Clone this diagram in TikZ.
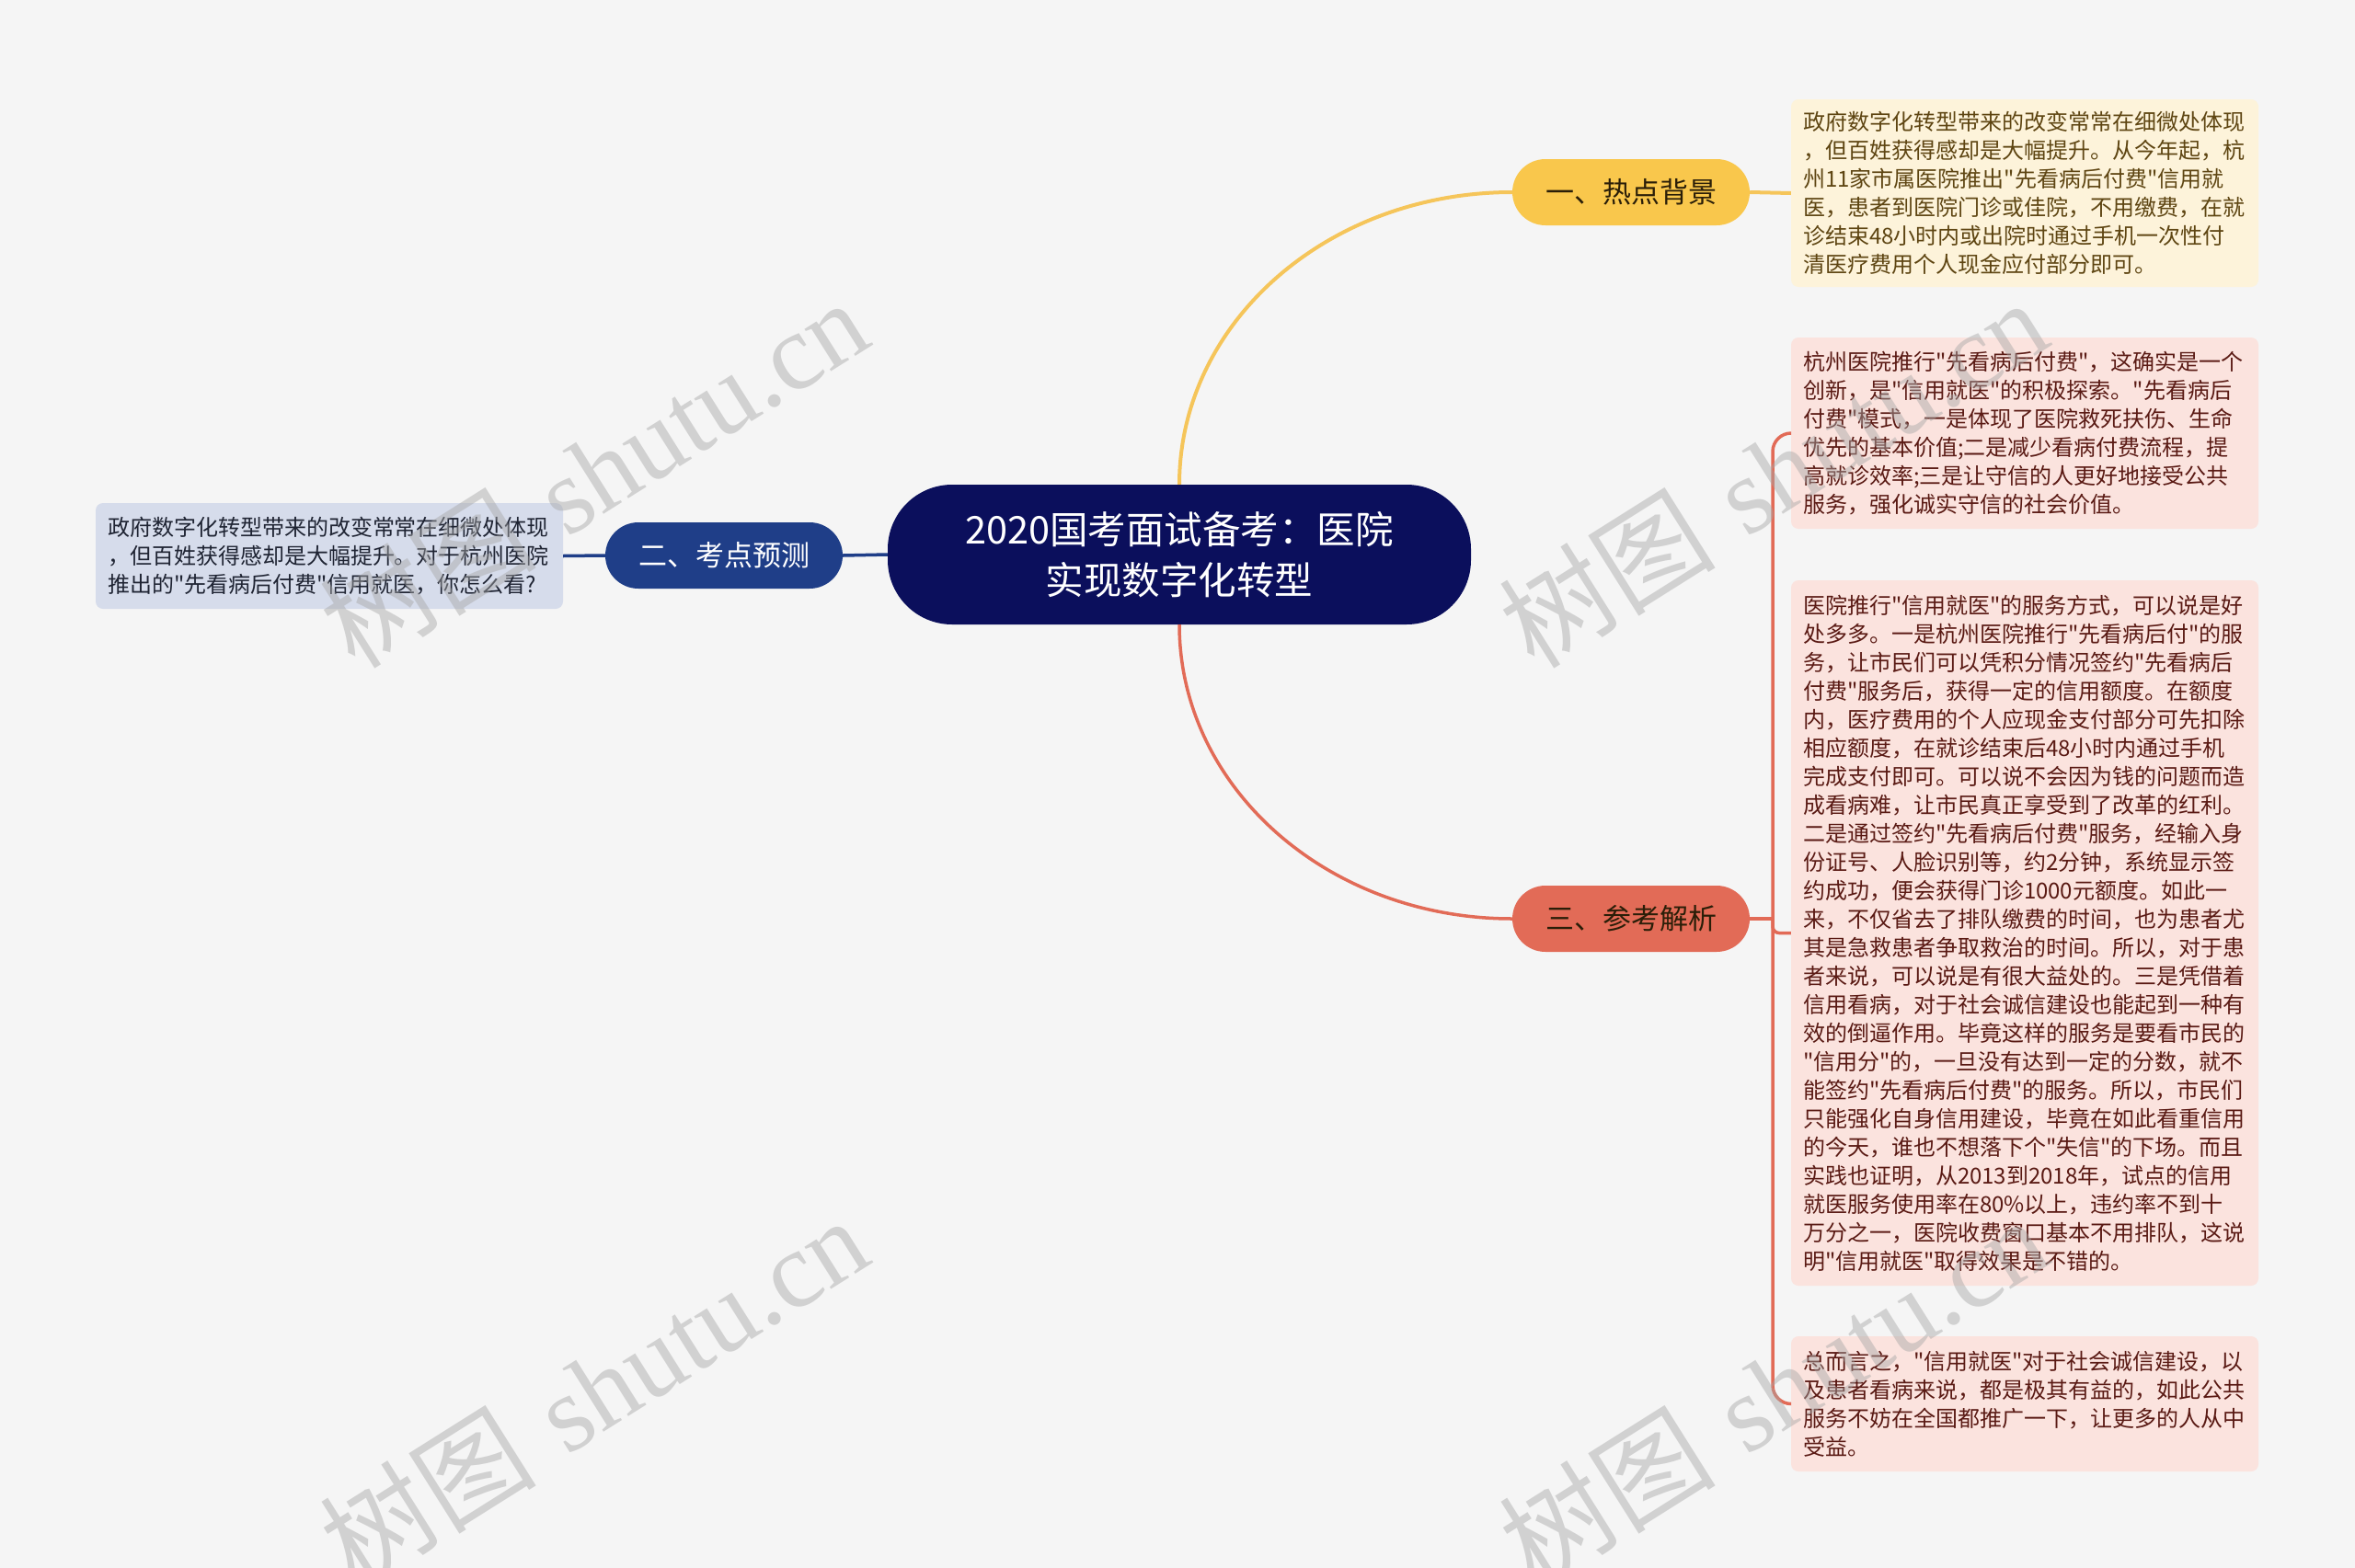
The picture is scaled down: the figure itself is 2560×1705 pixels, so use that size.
\documentclass[tikz,border=0pt]{standalone}
\usepackage{fontspec}
\newfontfamily\cjk{Noto Sans CJK SC}
\newfontfamily\wmlatin{Liberation Serif}
\definecolor{bgc}{HTML}{F5F5F5}
\definecolor{navy}{HTML}{0B0F5C}
\definecolor{yel}{HTML}{F9C74C}
\definecolor{yelline}{HTML}{F5C55A}
\definecolor{blu}{HTML}{1F3E88}
\definecolor{cor}{HTML}{E26B57}
\definecolor{boxA}{HTML}{FDF3DA}
\definecolor{boxP}{HTML}{FBE3DE}
\definecolor{boxE}{HTML}{D6DCEB}
\definecolor{txtA}{HTML}{5E4512}
\definecolor{txtP}{HTML}{5A1A14}
\definecolor{txtE}{HTML}{1F2433}
\definecolor{txtdark}{HTML}{2A1E08}
\begin{document}
\begin{tikzpicture}[x=1pt,y=-1pt,
  rootbox/.style={rectangle, rounded corners=70, fill=navy, text=white,
    minimum width=634, minimum height=152, align=center,
    font=\cjk\fontsize{41.5}{55}\selectfont},
  catbox/.style={rectangle, rounded corners=36, minimum width=258, minimum height=72,
    inner sep=0pt, font=\cjk\fontsize{31}{36}\selectfont},
  leafbox/.style={rectangle, rounded corners=8, inner xsep=13, inner ysep=10,
    text width=482, minimum width=508, align=left,
    font=\cjk\fontsize{24}{31}\selectfont},
  yline/.style={draw=yelline, line width=4},
  oline/.style={draw=cor, line width=3.5},
  bline/.style={draw=blu, line width=3.5},
  wm/.style={rotate=32.2, text=black!35, opacity=0.45, inner sep=0pt,
    font=\fontsize{118}{118}\selectfont}
]
\fill[bgc] (0,0) rectangle (2560,1705);
\useasboundingbox (0,0) rectangle (2560,1705);

% nodes
\node[rootbox] (root) at (1282,603) {2020国考面试备考：医院\\实现数字化转型};
\node[catbox, fill=yel, text=txtdark] (n1) at (1773,209) {一、热点背景};
\node[catbox, fill=blu, text=white] (n2) at (787,604) {二、考点预测};
\node[catbox, fill=cor, text=txtdark] (n3) at (1773,999) {三、参考解析};

\node[leafbox, fill=boxA, text=txtA, minimum height=204] (A) at (2201,210) {政府数字化转型带来的改变常常在细微处体现\\，但百姓获得感却是大幅提升。从今年起，杭\\州11家市属医院推出"先看病后付费"信用就\\医，患者到医院门诊或佳院，不用缴费，在就\\诊结束48小时内或出院时通过手机一次性付\\清医疗费用个人现金应付部分即可。};

\node[leafbox, fill=boxP, text=txtP, minimum height=208] (B) at (2201,471) {杭州医院推行"先看病后付费"，这确实是一个\\创新，是"信用就医"的积极探索。"先看病后\\付费"模式，一是体现了医院救死扶伤、生命\\优先的基本价值;二是减少看病付费流程，提\\高就诊效率;三是让守信的人更好地接受公共\\服务，强化诚实守信的社会价值。};

\node[leafbox, fill=boxP, text=txtP, minimum height=767] (C) at (2201,1014.5) {医院推行"信用就医"的服务方式，可以说是好\\处多多。一是杭州医院推行"先看病后付"的服\\务，让市民们可以凭积分情况签约"先看病后\\付费"服务后，获得一定的信用额度。在额度\\内，医疗费用的个人应现金支付部分可先扣除\\相应额度，在就诊结束后48小时内通过手机\\完成支付即可。可以说不会因为钱的问题而造\\成看病难，让市民真正享受到了改革的红利。\\二是通过签约"先看病后付费"服务，经输入身\\份证号、人脸识别等，约2分钟，系统显示签\\约成功，便会获得门诊1000元额度。如此一\\来，不仅省去了排队缴费的时间，也为患者尤\\其是急救患者争取救治的时间。所以，对于患\\者来说，可以说是有很大益处的。三是凭借着\\信用看病，对于社会诚信建设也能起到一种有\\效的倒逼作用。毕竟这样的服务是要看市民的\\"信用分"的，一旦没有达到一定的分数，就不\\能签约"先看病后付费"的服务。所以，市民们\\只能强化自身信用建设，毕竟在如此看重信用\\的今天，谁也不想落下个"失信"的下场。而且\\实践也证明，从2013到2018年，试点的信用\\就医服务使用率在80\%以上，违约率不到十\\万分之一，医院收费窗口基本不用排队，这说\\明"信用就医"取得效果是不错的。};

\node[leafbox, fill=boxP, text=txtP, minimum height=147] (D) at (2201,1526.5) {总而言之，"信用就医"对于社会诚信建设，以\\及患者看病来说，都是极其有益的，如此公共\\服务不妨在全国都推广一下，让更多的人从中\\受益。};

\node[leafbox, fill=boxE, text=txtE, minimum height=115] (E) at (358,604.5) {政府数字化转型带来的改变常常在细微处体现\\，但百姓获得感却是大幅提升。对于杭州医院\\推出的"先看病后付费"信用就医，你怎么看?};

% connectors
\draw[yline] (root.north) .. controls (1282,351) and (1443,209) .. (n1.west);
\draw[yline] (n1.east) -- (A.west);
\draw[oline] (root.south) .. controls (1282,856) and (1443,999) .. (n3.west);
\draw[bline] (root.west) -- (n2.east);
\draw[bline] (n2.west) -- (E.east);

\coordinate (j) at (1927,999);
\draw[oline] (n3.east) -- (j);
\draw[oline, rounded corners=20] (j) |- (B.west);
\draw[oline, rounded corners=20] (j) |- (D.west);
\draw[oline, rounded corners=7] (j) |- (C.west);

% watermarks
\node[wm] (w1) at (645,514) {{\cjk 树图} {\wmlatin shutu.cn}};
\node[wm] (w2) at (1927,514) {{\cjk 树图} {\wmlatin shutu.cn}};
\node[wm] (w3) at (645,1512) {{\cjk 树图} {\wmlatin shutu.cn}};
\node[wm] (w4) at (1927,1512) {{\cjk 树图} {\wmlatin shutu.cn}};
\end{tikzpicture}
\end{document}
